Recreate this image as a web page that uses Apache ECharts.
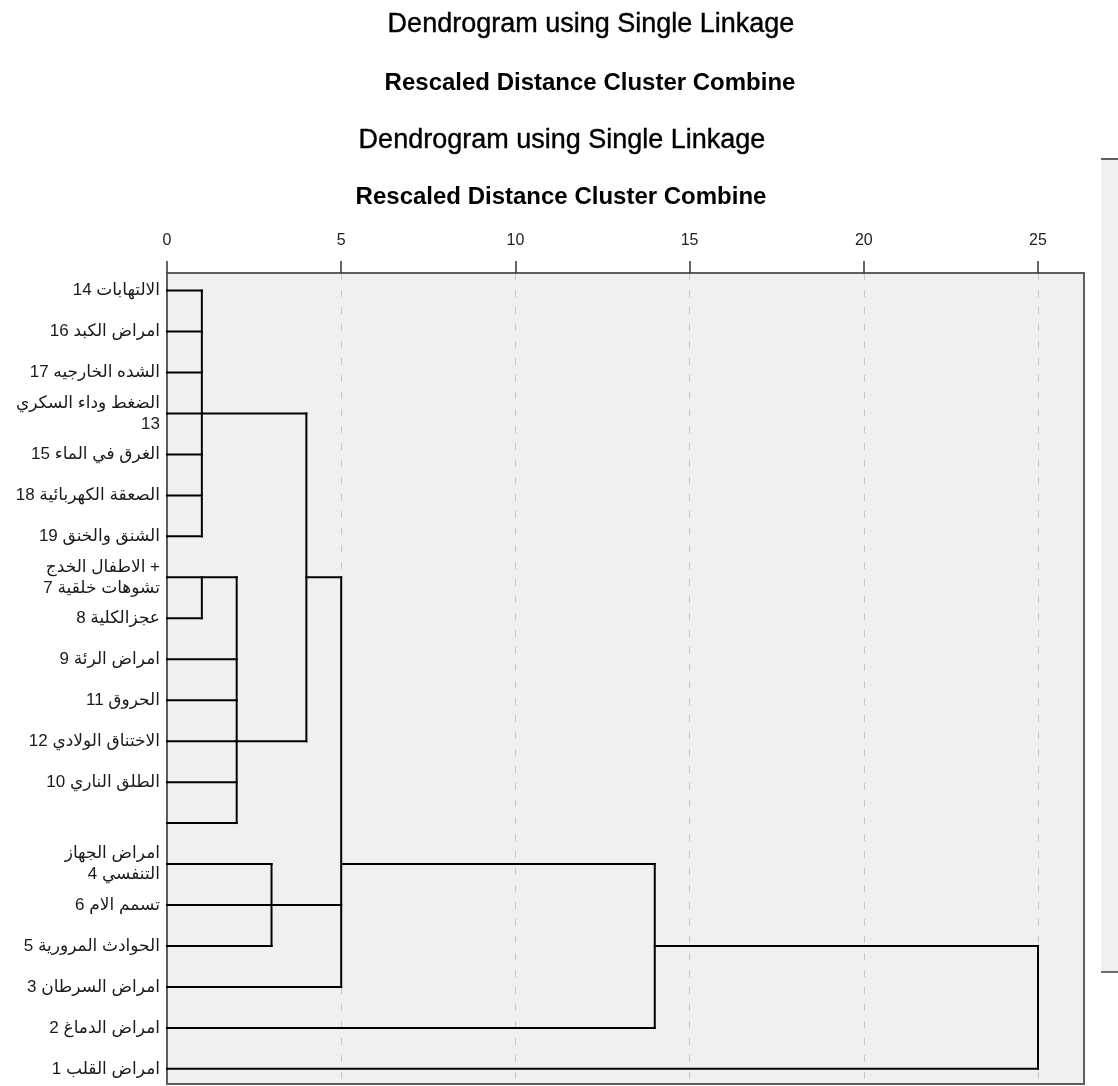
<!DOCTYPE html>
<html>
<head>
<meta charset="utf-8">
<script src="https://cdn.jsdelivr.net/npm/echarts@6/dist/echarts.min.js"></script>
<style>
  html, body { margin: 0; padding: 0; background: #fff; }
  #chart { width: 1118px; height: 1086px; }
</style>
</head>
<body>
<div id="chart"></div>
<script>
// leaf labels, top to bottom (row 13 has no label)
const labels = [
  "الالتهابات 14",
  "امراض الكبد 16",
  "الشده الخارجيه 17",
  "الضغط وداء السكري\n13",
  "الغرق في الماء 15",
  "الصعقة الكهربائية 18",
  "الشنق والخنق 19",
  "الاطفال الخدج +\nتشوهات خلقية 7",
  "عجزالكلية 8",
  "امراض الرئة 9",
  "الحروق 11",
  "الاختناق الولادي 12",
  "الطلق الناري 10",
  "",
  "امراض الجهاز\nالتنفسي 4",
  "تسمم الام 6",
  "الحوادث المرورية 5",
  "امراض السرطان 3",
  "امراض الدماغ 2",
  "امراض القلب 1"
];

// distance at which each leaf joins its first cluster
const leafJoin = [1, 1, 1, 1, 1, 1, 1, 1, 1, 2, 2, 2, 2, 2, 3, 3, 3, 5, 14, 25];

// clusters: height, rows spanned by the vertical, row of the outgoing branch, parent height
const mergeHeight   = [1, 1, 2, 4, 3, 5, 14, 25];
const mergeFirstRow = [0, 7, 7, 3, 14, 7, 14, 16];
const mergeLastRow  = [6, 8, 13, 11, 16, 17, 18, 19];
const mergeOutRow   = [3, 7, 11, 7, 15, 14, 16, null];
const mergeParent   = [4, 2, 4, 5, 5, 14, 25, null];

const xTicks = [0, 5, 10, 15, 20, 25];
const rows = labels.map((_, i) => i);

// segments as [x0, y0, x1, y1] in data units
const segments = [];
leafJoin.forEach((h, row) => segments.push([0, row, h, row]));
mergeHeight.forEach((h, k) => {
  segments.push([h, mergeFirstRow[k], h, mergeLastRow[k]]);
  if (mergeParent[k] != null) {
    segments.push([h, mergeOutRow[k], mergeParent[k], mergeOutRow[k]]);
  }
});

const chart = echarts.init(document.getElementById("chart"), null, { renderer: "canvas" });

const FONT = 'Arial, "Liberation Sans", "DejaVu Sans", sans-serif';

function renderSegment(params, api) {
  const p0 = api.coord([api.value(0), api.value(1)]);
  const p1 = api.coord([api.value(2), api.value(3)]);
  return {
    type: "line",
    shape: { x1: p0[0], y1: p0[1], x2: p1[0], y2: p1[1] },
    style: { stroke: "#000", lineWidth: 2, lineCap: "square" }
  };
}

chart.setOption({
  animation: false,
  grid: {
    left: 167,
    top: 273,
    width: 917,
    height: 811,
    show: true,
    backgroundColor: "#f0f0f0",
    borderColor: "#5e5e5e",
    borderWidth: 2
  },
  xAxis: {
    type: "value",
    position: "top",
    min: 0,
    max: 26.32,
    interval: 5,
    axisLine: { show: true, onZero: false, lineStyle: { color: "#5e5e5e", width: 2 } },
    axisTick: {
      show: true,
      inside: false,
      length: 12,
      customValues: xTicks,
      lineStyle: { color: "#333", width: 1.5 }
    },
    axisLabel: {
      customValues: xTicks,
      margin: 24,
      color: "#222",
      fontSize: 16,
      fontFamily: FONT
    },
    splitLine: {
      show: true,
      lineStyle: { color: "#c8c8c8", width: 1, type: [7, 10] }
    }
  },
  yAxis: {
    type: "value",
    inverse: true,
    min: -0.43,
    max: 19.37,
    axisLine: { show: true, onZero: false, lineStyle: { color: "#5e5e5e", width: 2 } },
    axisTick: { show: false },
    splitLine: { show: false },
    axisLabel: {
      customValues: rows,
      margin: 7,
      color: "#1a1a1a",
      fontSize: 17,
      lineHeight: 21,
      fontFamily: FONT,
      align: "right",
      formatter: v => labels[Math.round(v)] || ""
    }
  },
  series: [
    {
      type: "custom",
      renderItem: renderSegment,
      encode: { x: [0, 2], y: [1, 3] },
      data: segments,
      silent: true
    }
  ],
  graphic: [
    {
      type: "text",
      style: { text: "Dendrogram using Single Linkage", x: 591, y: 25, textAlign: "center", textVerticalAlign: "middle", font: "normal 27px " + FONT, fill: "#000", stroke: "#000", lineWidth: 0.4 }
    },
    {
      type: "text",
      style: { text: "Rescaled Distance Cluster Combine", x: 590, y: 83, textAlign: "center", textVerticalAlign: "middle", font: "bold 24px " + FONT, fill: "#000" }
    },
    {
      type: "text",
      style: { text: "Dendrogram using Single Linkage", x: 562, y: 141, textAlign: "center", textVerticalAlign: "middle", font: "normal 27px " + FONT, fill: "#000", stroke: "#000", lineWidth: 0.4 }
    },
    {
      type: "text",
      style: { text: "Rescaled Distance Cluster Combine", x: 561, y: 197, textAlign: "center", textVerticalAlign: "middle", font: "bold 24px " + FONT, fill: "#000" }
    },
    {
      type: "rect",
      shape: { x: 1101, y: 159, width: 30, height: 813 },
      style: { fill: "#f0f0f0" }
    },
    {
      type: "line",
      shape: { x1: 1101, y1: 159, x2: 1118, y2: 159 },
      style: { stroke: "#5e5e5e", lineWidth: 2 }
    },
    {
      type: "line",
      shape: { x1: 1101, y1: 972, x2: 1118, y2: 972 },
      style: { stroke: "#6e6e6e", lineWidth: 2 }
    }
  ]
});
</script>
</body>
</html>
